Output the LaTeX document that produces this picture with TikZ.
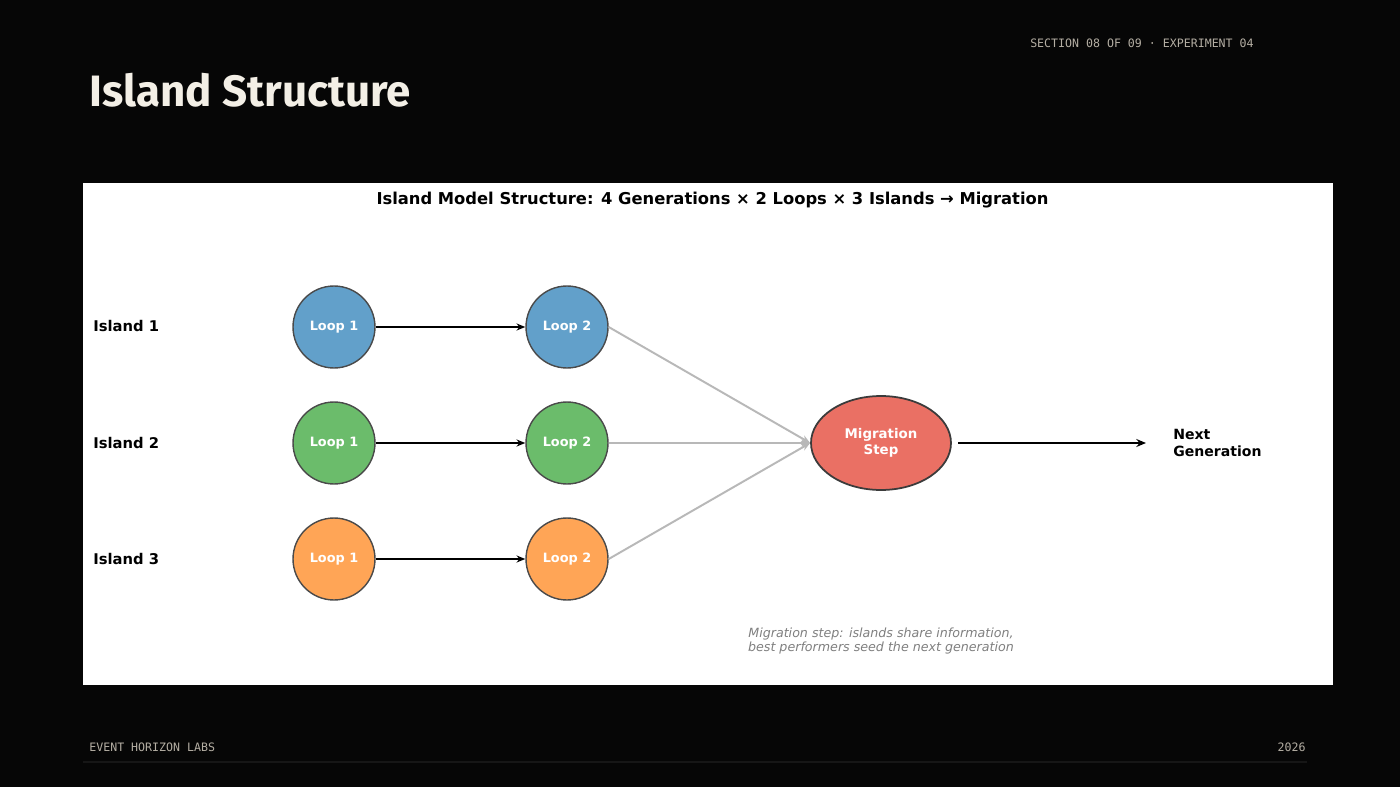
\documentclass[tikz,border=0pt]{standalone}
\usepackage{fontspec}
\setmainfont{DejaVu Sans}
\newfontfamily\headfont{Fira Sans}
\newfontfamily\monofont{DejaVu Sans Mono}
\usetikzlibrary{shapes.geometric,arrows.meta}

\definecolor{bgdark}{HTML}{060606}
\definecolor{footline}{HTML}{161616}
\definecolor{cream}{HTML}{F3EFE6}
\definecolor{monogray}{HTML}{B4AEA3}
\definecolor{islandblue}{RGB}{98,160,202}
\definecolor{islandgreen}{RGB}{107,188,107}
\definecolor{islandorange}{RGB}{255,165,86}
\definecolor{migred}{RGB}{234,112,100}
\definecolor{edgegray}{HTML}{4A4A4A}
\definecolor{linkgray}{HTML}{B8B8B8}

\tikzset{
  loopnode/.style={circle, draw=edgegray, line width=0.8pt, minimum size=1.64cm,
    inner sep=0pt, text=white, font=\bfseries\fontsize{7.3}{9}\selectfont},
  islandlabel/.style={anchor=base west, inner sep=0pt, font=\bfseries\fontsize{8.4}{10}\selectfont},
  steparrow/.style={line width=0.9pt, -{Stealth[length=5pt,width=4pt]}},
  migarrow/.style={linkgray, line width=1.1pt, -{Stealth[length=5pt,width=4pt]}},
  monotext/.style={text=monogray, inner sep=0pt, font=\monofont\fontsize{6.6}{8}\selectfont}
}

\begin{document}
\begin{tikzpicture}[x=0.02cm,y=-0.02cm]
    % slide background and panel
    \fill[bgdark] (0,0) rectangle (1400,787);
    \fill[white] (83,183) rectangle (1333,685);
    \draw[footline, line width=0.6pt] (83,762) -- (1307,762);

    % slide headings
    \node[anchor=base west, inner sep=0pt, text=cream, font=\headfont\bfseries\fontsize{25}{30}\selectfont] (slidetitle) at (89,107) {Island Structure};
    \node[monotext, anchor=base east] (section) at (1254,48) {SECTION 08 OF 09 · EXPERIMENT 04};
    \node[monotext, anchor=base west] (lab) at (89,751) {EVENT HORIZON LABS};
    \node[monotext, anchor=base east] (year) at (1306,751) {2026};

    % panel title
    \node[anchor=base, inner sep=0pt, font=\bfseries\fontsize{9.3}{11}\selectfont] (paneltitle) at (712.5,205) {Island Model Structure: 4 Generations × 2 Loops × 3 Islands → Migration};

    % islands
    \node[islandlabel] (isl1) at (93,332) {Island 1};
    \node[islandlabel] (isl2) at (93,448) {Island 2};
    \node[islandlabel] (isl3) at (93,564) {Island 3};

    \node[loopnode, fill=islandblue] (a1) at (334,327) {Loop 1};
    \node[loopnode, fill=islandblue] (a2) at (567,327) {Loop 2};
    \node[loopnode, fill=islandgreen] (b1) at (334,443) {Loop 1};
    \node[loopnode, fill=islandgreen] (b2) at (567,443) {Loop 2};
    \node[loopnode, fill=islandorange] (c1) at (334,559) {Loop 1};
    \node[loopnode, fill=islandorange] (c2) at (567,559) {Loop 2};

    \draw[steparrow] (a1) -- (a2);
    \draw[steparrow] (b1) -- (b2);
    \draw[steparrow] (c1) -- (c2);

    % migration
    \node[ellipse, draw=edgegray!80!black, line width=1pt, fill=migred, minimum width=2.8cm, minimum height=1.88cm,
      inner sep=0pt, text=white, align=center, font=\bfseries\fontsize{7.6}{9}\selectfont] (mig) at (881,443) {Migration\\Step};

    \draw[migarrow] (a2.east) -- (mig.west);
    \draw[migarrow] (b2.east) -- (mig.west);
    \draw[migarrow] (c2.east) -- (mig.west);

    \node[anchor=west, inner sep=0pt, align=left, font=\bfseries\fontsize{8.0}{9.2}\selectfont] (nextgen) at (1173,443) {Next\\Generation};
    \coordinate (migout) at (958,443);
    \coordinate (nextin) at (1146,443);
    \draw[line width=1pt, -{Stealth[length=5.5pt,width=4.5pt]}] (migout) -- (nextin);

    % note
    \node[text=gray, align=center, inner sep=0pt, font=\itshape\fontsize{7.2}{8.5}\selectfont] (note) at (881,641) {Migration step: islands share information,\\best performers seed the next generation};
\end{tikzpicture}
\end{document}
